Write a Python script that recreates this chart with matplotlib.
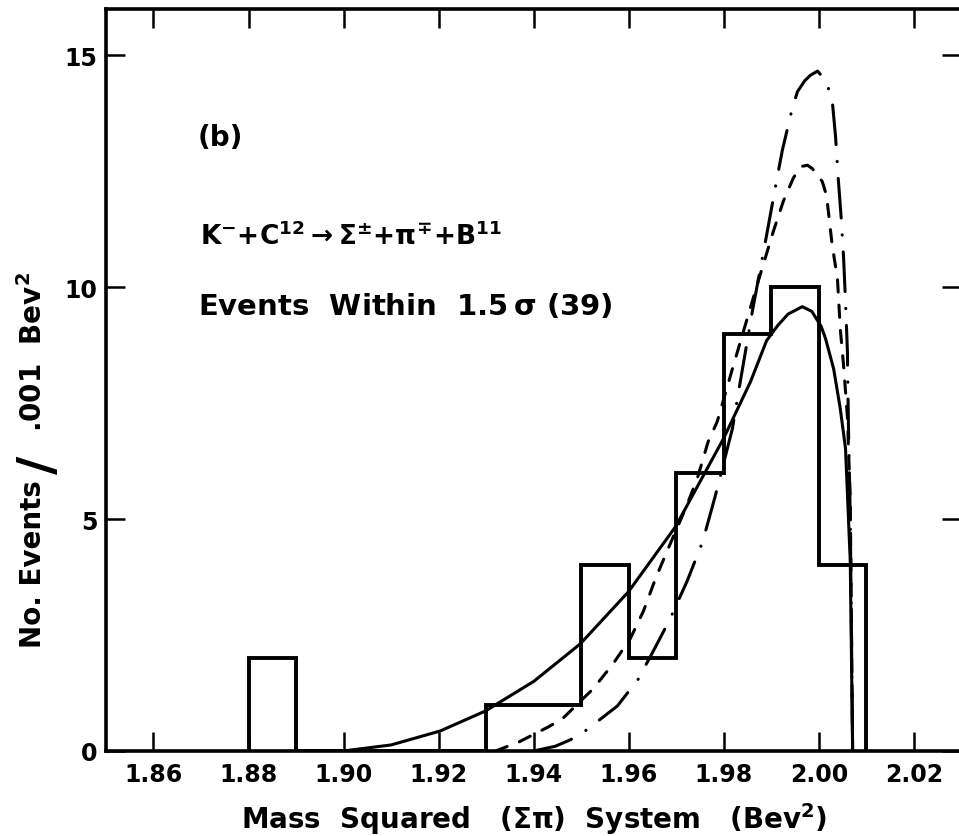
import matplotlib
matplotlib.use("Agg")
import matplotlib.pyplot as plt

# histogram of events, bins of .01 Bev^2
bin_edges = [1.88, 1.89, 1.90, 1.91, 1.92, 1.93, 1.94, 1.95, 1.96, 1.97, 1.98, 1.99, 2.00, 2.01]
counts = [2, 0, 0, 0, 0, 1, 1, 4, 2, 6, 9, 10, 4]

# solid curve
solid_x = [1.900, 1.910, 1.9203, 1.9298, 1.940, 1.9498, 1.9599, 1.9698, 1.9799, 1.9856,
           1.9890, 1.9913, 1.9935, 1.9965, 1.9985, 2.0005, 2.0014, 2.0031, 2.0045, 2.0056,
           2.0066, 2.0071]
solid_y = [0.0, 0.13, 0.43, 0.86, 1.5, 2.31, 3.43, 4.83, 6.73, 7.96,
           8.85, 9.17, 9.42, 9.58, 9.48, 9.15, 8.89, 8.24, 7.38, 6.52,
           4.08, 0.0]

# dashed curve
dashed_x = [1.932, 1.937, 1.9431, 1.946, 1.9525, 1.9567, 1.9603, 1.9631, 1.9656, 1.9681,
            1.9719, 1.9744, 1.9767, 1.9786, 1.9818, 1.9841, 1.9870, 1.9904, 1.9925, 1.9946,
            1.9961, 1.9976, 1.9986, 2.0007, 2.0016, 2.0028, 2.0039, 2.0045, 2.0052, 2.0060,
            2.0066, 2.0071]
dashed_y = [0.0, 0.2, 0.52, 0.69, 1.34, 1.88, 2.42, 3.02, 3.71, 4.32,
            5.22, 5.87, 6.67, 7.1, 8.24, 9.04, 10.05, 11.2, 11.85, 12.35,
            12.6, 12.63, 12.56, 12.28, 11.98, 10.9, 10.19, 9.1, 8.3, 7.2,
            5.4, 0.0]

# dash-dot curve
dashdot_x = [1.9400, 1.9445, 1.9477, 1.9508, 1.9576, 1.9620, 1.9656, 1.9687, 1.9723, 1.9755,
             1.9782, 1.9818, 1.9831, 1.9860, 1.9889, 1.9911, 1.9923, 1.9944, 1.9955, 1.9970,
             1.9982, 1.9997, 2.0015, 2.0028, 2.0035, 2.0041, 2.0047, 2.0052, 2.0056, 2.0060,
             2.0062, 2.0066, 2.0071]
dashdot_y = [0.0, 0.1, 0.24, 0.43, 0.97, 1.55, 2.24, 2.85, 3.67, 4.5,
             5.5, 6.95, 7.75, 9.48, 11.07, 12.3, 12.95, 13.86, 14.22, 14.45,
             14.57, 14.66, 14.45, 14.03, 13.25, 12.3, 11.48, 10.62, 9.69, 8.61,
             7.1, 5.0, 0.0]

xticks = [1.86, 1.88, 1.90, 1.92, 1.94, 1.96, 1.98, 2.00, 2.02]
xticklabels = ["1.86", "1.88", "1.90", "1.92", "1.94", "1.96", "1.98", "2.00", "2.02"]
yticks = [0, 5, 10, 15]

plt.rcParams['font.family'] = ['DejaVu Sans']
plt.rcParams['font.weight'] = 'bold'
plt.rcParams['mathtext.fontset'] = 'custom'
plt.rcParams['mathtext.rm'] = 'DejaVu Sans:bold'
plt.rcParams['mathtext.it'] = 'DejaVu Sans:bold'
plt.rcParams['mathtext.bf'] = 'DejaVu Sans:bold'
plt.rcParams['mathtext.sf'] = 'DejaVu Sans:bold'

fig = plt.figure(figsize=(9.59, 8.37), dpi=100)
ax = fig.add_axes([0.1105, 0.1016, 0.8921, 0.8865])

ax.stairs(counts, bin_edges, baseline=0, fill=False, color='black', linewidth=2.8)
ax.plot(solid_x, solid_y, color='black', linewidth=2.2, solid_capstyle='round')
ax.plot(dashed_x, dashed_y, color='black', linewidth=2.2,
        linestyle=(0, (4, 4.3)), dash_capstyle='round')
ax.plot(dashdot_x, dashdot_y, color='black', linewidth=2.2,
        linestyle=(0, (13, 5.5, 0.1, 5.5)), dash_capstyle='round')

ax.set_xlim(1.85, 2.03)
ax.set_ylim(0, 16)
ax.set_xticks(xticks)
ax.set_xticklabels(xticklabels)
ax.set_yticks(yticks)
ax.tick_params(direction='in', length=13.5, width=1.8, top=True, right=True,
               labelsize=17, pad=6)
ax.tick_params(axis='x', pad=8)
for sp in ax.spines.values():
    sp.set_linewidth(2.6)

ax.set_xlabel(r"Mass  Squared   ($\Sigma\pi$)  System   (Bev$^2$)", fontsize=20,
              fontweight='bold')
ax.xaxis.set_label_coords(0.5, -0.066)

# y label in three pieces, with the big slash
fig.text(0.0344, 0.326, "No. Events", rotation=90, ha='center', va='center',
         fontsize=20, fontweight='bold')
fig.text(0.041, 0.444, "/", rotation=90, ha='center', va='center',
         fontsize=36, fontweight='bold')
fig.text(0.0344, 0.580, ".001  Bev$^2$", rotation=90, ha='center', va='center',
         fontsize=20, fontweight='bold')

ax.text(1.8692, 13.23, "(b)", ha='left', va='center', fontsize=20, fontweight='bold')
ax.text(1.8698, 11.12,
        r"K$^{-}$+C$^{12}$$\rightarrow$$\Sigma^{\pm}$+$\pi^{\mp}$+B$^{11}$",
        ha='left', va='center', fontsize=19, fontweight='bold')
ax.text(1.8694, 9.6, r"Events  Within  1.5$\,\sigma$ (39)", ha='left', va='center',
        fontsize=21, fontweight='bold')

fig.savefig("out.png", dpi=100, facecolor='white')
